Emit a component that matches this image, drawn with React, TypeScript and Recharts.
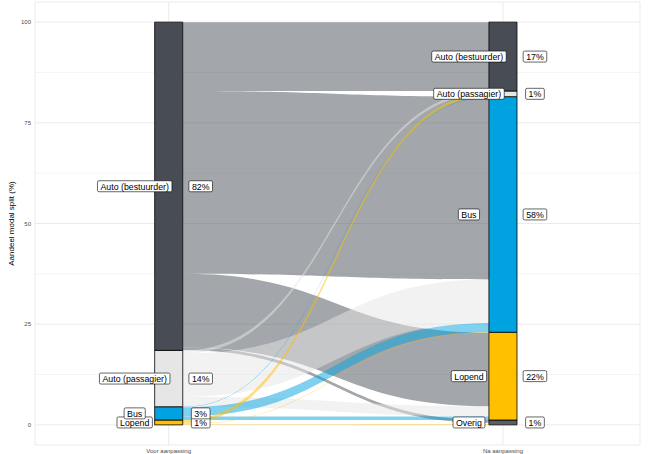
// Alluvial-diagram modal split (voor/na) — Recharts, ranges via Area bumpX
import {
  ComposedChart,
  Area,
  XAxis,
  YAxis,
  CartesianGrid,
  ReferenceArea,
  Scatter,
} from "recharts";

const kolommen = ["Voor aanpassing", "Na aanpassing"];

const kleuren: Record<string, string> = {
  "Auto (bestuurder)": "#484d55",
  "Auto (passagier)": "#e6e6e6",
  Bus: "#00a3e0",
  Lopend: "#ffc000",
  Overig: "#5b5f64",
};

// strata per kolom: [modus, onder, boven] in %
const voorStrata: [string, number, number][] = [
  ["Lopend", 0, 1.2],
  ["Bus", 1.2, 4.5],
  ["Auto (passagier)", 4.5, 18.5],
  ["Auto (bestuurder)", 18.5, 100],
];
const voorPct = ["1%", "3%", "14%", "82%"];

const naStrata: [string, number, number][] = [
  ["Overig", 0, 1.2],
  ["Lopend", 1.2, 23],
  ["Bus", 23, 81.5],
  ["Auto (passagier)", 81.5, 82.9],
  ["Auto (bestuurder)", 82.9, 100],
];
const naPct = ["1%", "22%", "58%", "1%", "17%"];

// stromen: herkomst, [links onder, boven], [rechts onder, boven]
const stromen: { van: string; links: [number, number]; rechts: [number, number] }[] = [
  { van: "Auto (bestuurder)", links: [82.9, 100], rechts: [82.9, 100] },
  { van: "Auto (bestuurder)", links: [37.5, 82.9], rechts: [36.1, 81.5] },
  { van: "Auto (bestuurder)", links: [19.2, 37.5], rechts: [4.6, 22.9] },
  { van: "Auto (bestuurder)", links: [18.5, 19.2], rechts: [0.5, 1.2] },
  { van: "Auto (passagier)", links: [17.7, 18.5], rechts: [82.2, 82.9] },
  { van: "Auto (passagier)", links: [7, 17.7], rechts: [25.3, 36.1] },
  { van: "Auto (passagier)", links: [4.5, 7], rechts: [2.1, 4.6] },
  { van: "Bus", links: [4.35, 4.5], rechts: [81.25, 81.4] },
  { van: "Bus", links: [2.1, 4.35], rechts: [23, 25.3] },
  { van: "Bus", links: [1.2, 2.1], rechts: [1.2, 2.1] },
  { van: "Lopend", links: [0.25, 1.2], rechts: [81.5, 82.2] },
  { van: "Lopend", links: [0.12, 0.25], rechts: [22.85, 23] },
  { van: "Lopend", links: [0, 0.12], rechts: [0, 0.2] },
];

const hw = 0.042; // halve breedte stratum

const data = [
  Object.fromEntries([["x", 1 + hw], ...stromen.map((s, i) => [`f${i}`, s.links])]),
  Object.fromEntries([["x", 2 - hw], ...stromen.map((s, i) => [`f${i}`, s.rechts])]),
];

const naamLabels = [
  ...voorStrata.map(([m, a, b]) => ({ x: 1, y: (a + b) / 2, tekst: m })),
  ...naStrata.map(([m, a, b]) => ({ x: 2, y: (a + b) / 2, tekst: m })),
];
const pctLabels = [
  ...voorStrata.map(([, a, b], i) => ({ x: 1, y: (a + b) / 2, tekst: voorPct[i] })),
  ...naStrata.map(([, a, b], i) => ({ x: 2, y: (a + b) / 2, tekst: naPct[i] })),
];

const FONT = "'Liberation Sans', Arial, sans-serif";
const LBL = 8.8;
const ctx = document.createElement("canvas").getContext("2d");
const meet = (s: string) => {
  if (!ctx) return s.length * 4.6;
  ctx.font = `${LBL}px ${FONT}`;
  return ctx.measureText(s).width;
};

function Kader(props: any) {
  const { cx, cy, payload, dx } = props;
  if (cx == null || cy == null) return null;
  const w = meet(payload.tekst) + 6;
  const h = 11;
  return (
    <g>
      <rect
        x={cx + dx - w / 2}
        y={cy - h / 2}
        width={w}
        height={h}
        rx={1.5}
        fill="#fff"
        stroke="#000"
        strokeWidth={0.6}
      />
      <text
        x={cx + dx}
        y={cy + 0.5}
        textAnchor="middle"
        dominantBaseline="central"
        fontSize={LBL}
        fontFamily={FONT}
        fill="#000"
      >
        {payload.tekst}
      </text>
    </g>
  );
}

export default function App() {
  return (
    <div style={{ position: "absolute", left: 0, top: 0, background: "#fff" }}>
      <ComposedChart
        width={668}
        height={454}
        data={data}
        margin={{ top: 2, right: 28, bottom: 0, left: 8 }}
      >
        <CartesianGrid
          stroke="#ebebeb"
          strokeWidth={0.5}
          vertical={false}
          horizontalValues={[12.5, 37.5, 62.5, 87.5]}
        />
        <CartesianGrid stroke="#ebebeb" strokeWidth={1} />
        <XAxis
          type="number"
          dataKey="x"
          domain={[0.6, 2.41]}
          ticks={[1, 2]}
          allowDataOverflow
          tickFormatter={(v) => kolommen[v - 1]}
          axisLine={false}
          tickLine={false}
          tickSize={0}
          tickMargin={4}
          height={9}
          tick={{ fontSize: 6, fill: "#4d4d4d", fontFamily: FONT }}
        />
        <YAxis
          type="number"
          domain={[-5, 105]}
          ticks={[0, 25, 50, 75, 100]}
          allowDataOverflow
          axisLine={false}
          tickLine={false}
          tickSize={2}
          tickMargin={2}
          width={27}
          tick={{ fontSize: 6, fill: "#4d4d4d", fontFamily: FONT }}
          label={{
            value: "Aandeel modal split (%)",
            angle: -90,
            position: "insideLeft",
            offset: 3,
            style: { fontSize: 8, fill: "#000", fontFamily: FONT, textAnchor: "middle" },
          }}
        />
        {stromen.map((s, i) => (
          <Area
            key={i}
            dataKey={`f${i}`}
            type="bumpX"
            stroke="none"
            fill={kleuren[s.van]}
            fillOpacity={0.5}
            isAnimationActive={false}
            dot={false}
            activeDot={false}
          />
        ))}
        {voorStrata.map(([m, a, b]) => (
          <ReferenceArea
            key={`v${m}`}
            x1={1 - hw}
            x2={1 + hw}
            y1={a}
            y2={b}
            fill={kleuren[m]}
            fillOpacity={1}
            stroke="#000"
            strokeWidth={0.8}
          />
        ))}
        {naStrata.map(([m, a, b]) => (
          <ReferenceArea
            key={`n${m}`}
            x1={2 - hw}
            x2={2 + hw}
            y1={a}
            y2={b}
            fill={kleuren[m]}
            fillOpacity={1}
            stroke="#000"
            strokeWidth={0.8}
          />
        ))}
        <Scatter
          data={naamLabels}
          dataKey="y"
          isAnimationActive={false}
          shape={(p: any) => <Kader {...p} dx={-34} />}
        />
        <Scatter
          data={pctLabels}
          dataKey="y"
          isAnimationActive={false}
          shape={(p: any) => <Kader {...p} dx={32} />}
        />
      </ComposedChart>
    </div>
  );
}
